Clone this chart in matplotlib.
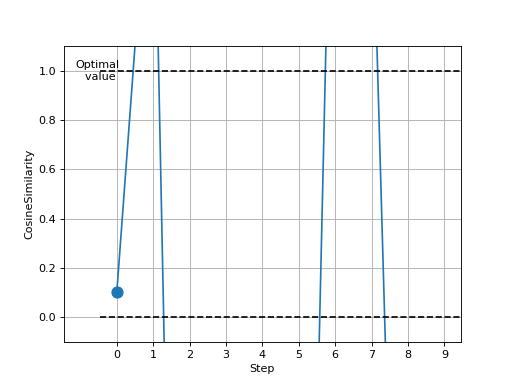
import numpy as np
import matplotlib
matplotlib.use('Agg')
import matplotlib.pyplot as plt

# cosine similarity per step (values outside the view are estimated)
steps = [0, 1, 2, 3, 4, 5, 6, 7, 8, 9]
cosSim = [0.1, 2.1, -5.2, -4.0, -4.5, -3.74, 2.76, 1.86, -3.34, -1.5]

optimalLevels = [1.0, 0.0]
lineStart = -0.47
lineEnd = 9.6

fig = plt.figure(figsize=(6.4, 4.8), dpi=80)
ax = fig.add_subplot(111)

ax.plot(steps, cosSim, color='#1f77b4', linewidth=1.5)
ax.plot(steps[0], cosSim[0], 'o', color='#1f77b4', markersize=10)

for level in optimalLevels:
    ax.plot([lineStart, lineEnd], [level, level], 'k--', linewidth=1.5)

ax.text(0.07, 1.0, 'Optimal\nvalue ', ha='right', va='center', fontsize=10)

ax.set_xlim(-1.45, 9.45)
ax.set_ylim(-0.1, 1.1)
ax.set_xticks(steps)
ax.set_xlabel('Step')
ax.set_ylabel('CosineSimilarity')
ax.grid(True)

fig.savefig('out.png', dpi=80)
